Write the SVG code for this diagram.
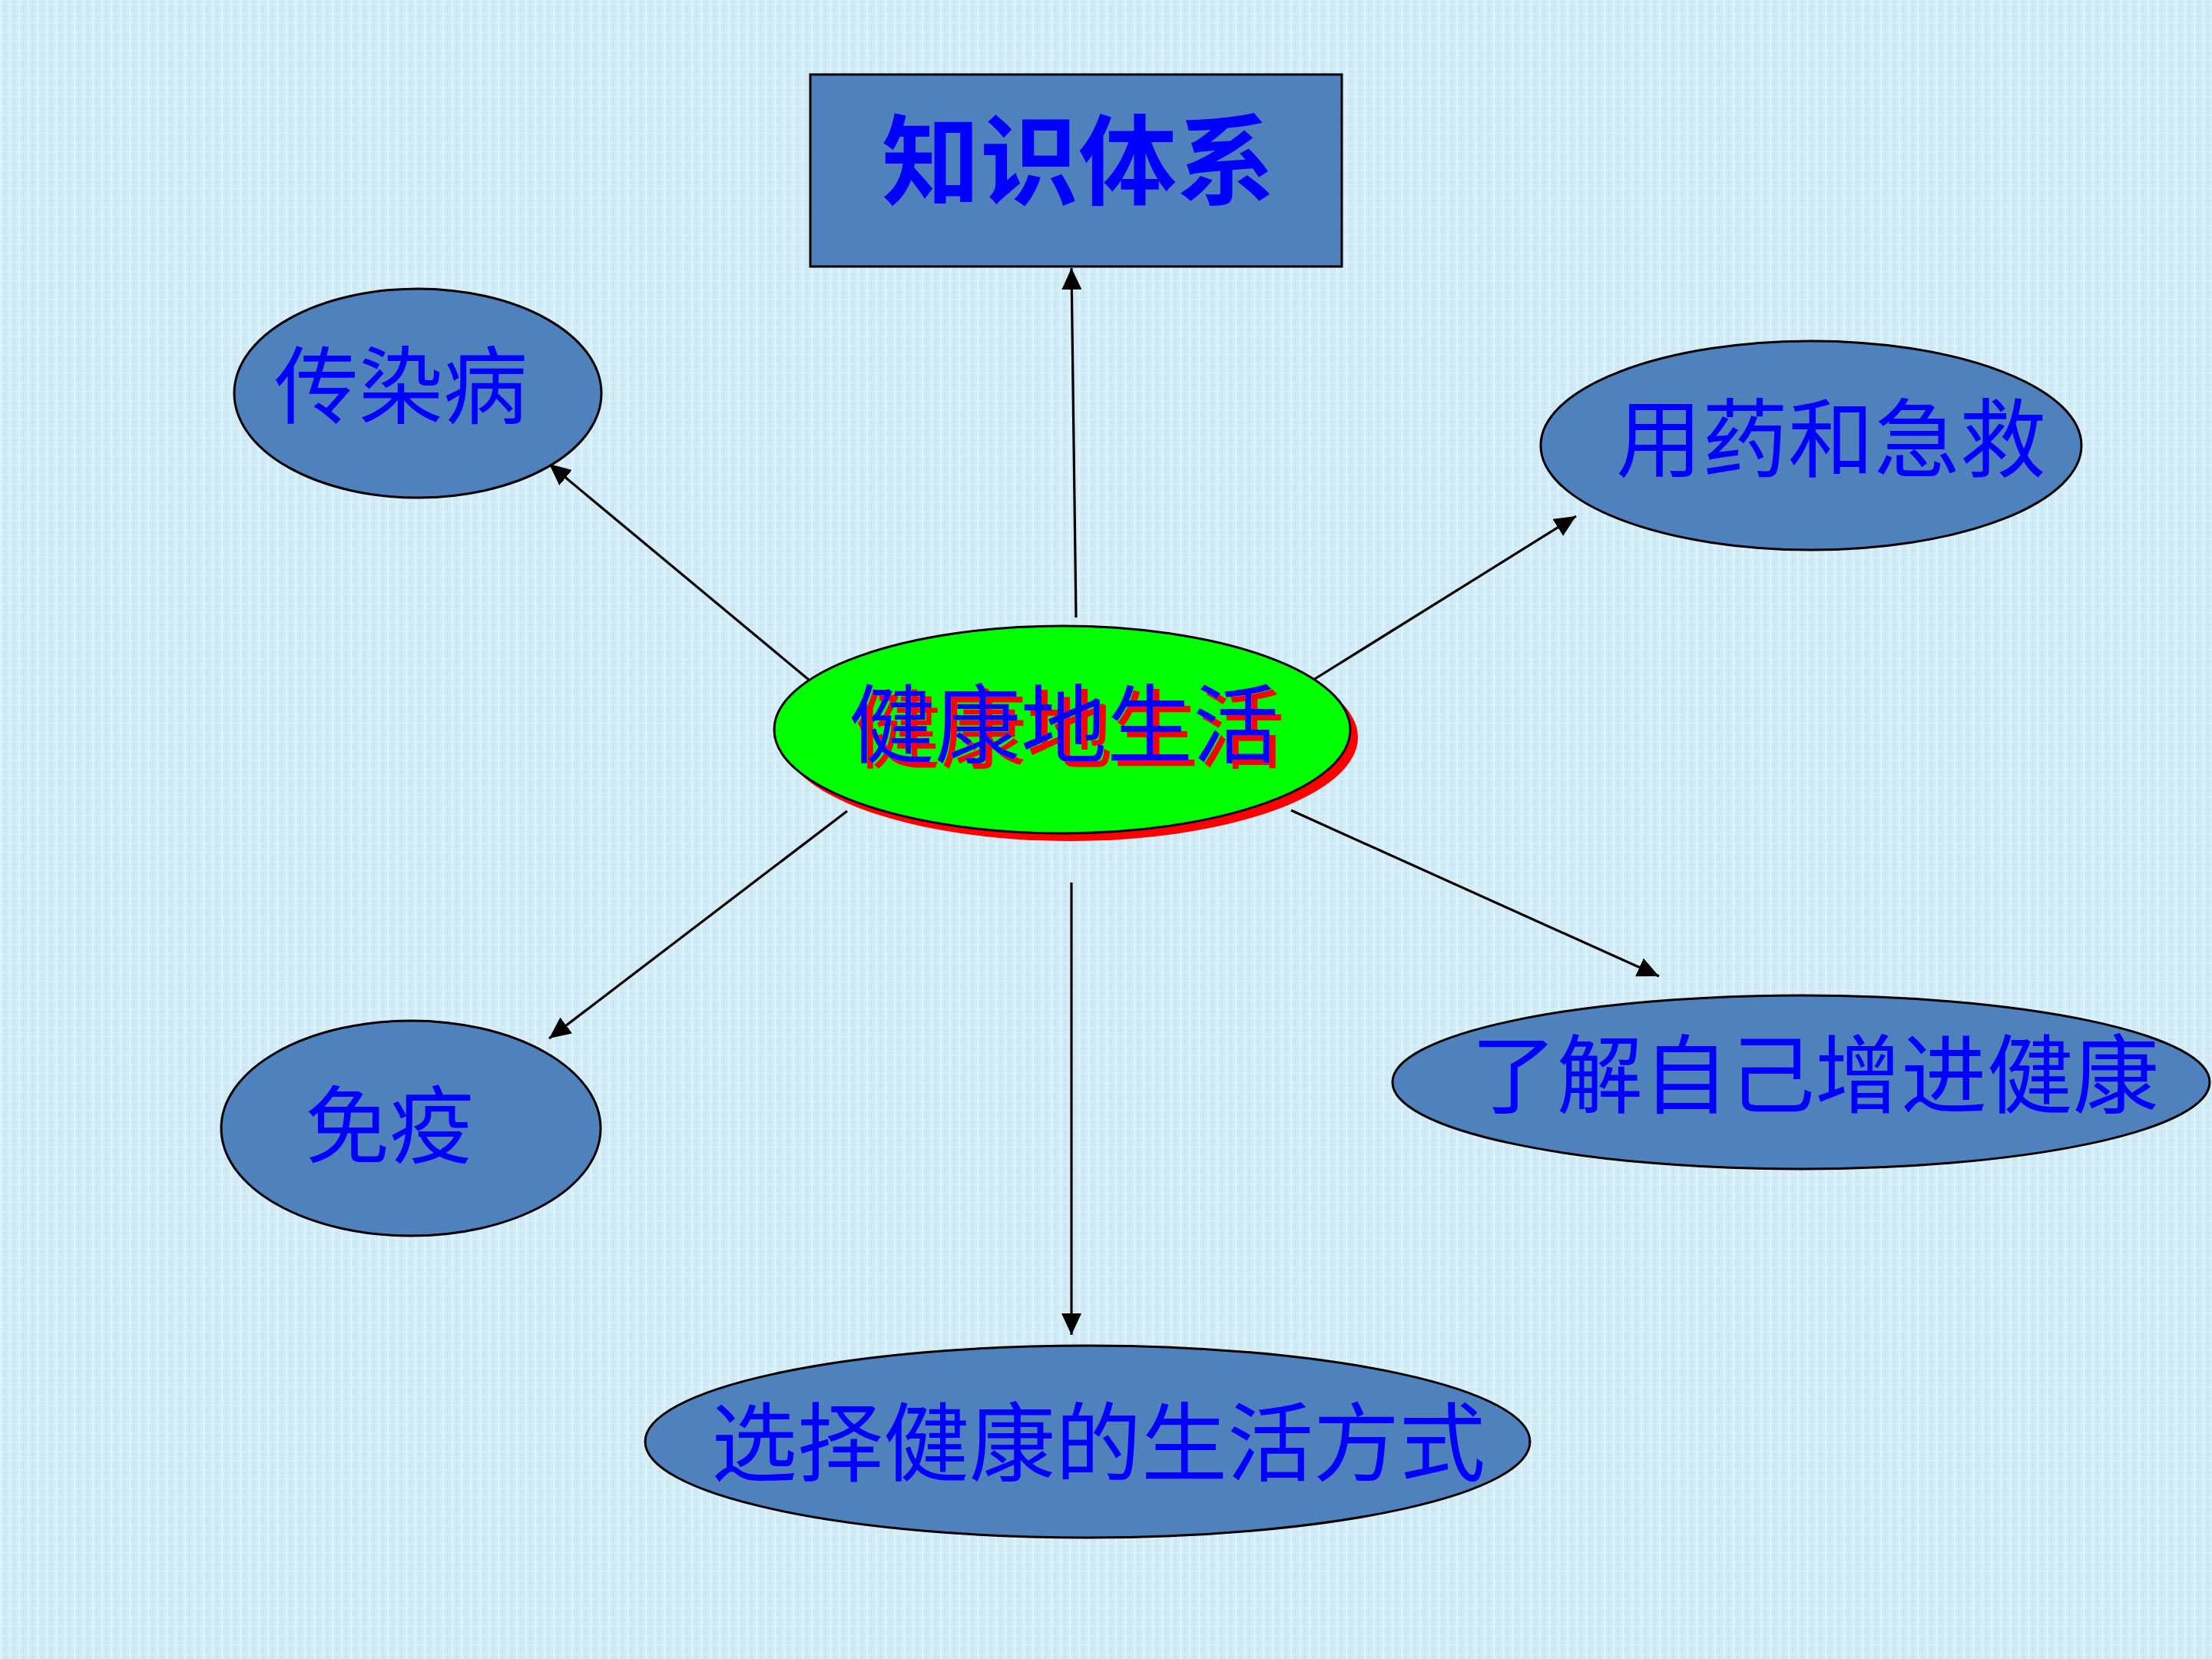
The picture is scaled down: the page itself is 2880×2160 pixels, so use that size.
<svg xmlns="http://www.w3.org/2000/svg" width="2880" height="2160" viewBox="0 0 2880 2160">
<defs>
<pattern id="tex" width="12" height="12" patternUnits="userSpaceOnUse">
<rect width="12" height="12" fill="#d2ecf7"/>
<rect x="0" y="0" width="2" height="12" fill="#dff4fc"/>
<rect x="6" y="0" width="1" height="12" fill="#c6e2ef"/>
<rect x="0" y="5" width="12" height="1" fill="#dcf2fb"/>
<rect x="3" y="9" width="6" height="1" fill="#c8e4f0"/>
</pattern>
<marker id="arr" markerUnits="userSpaceOnUse" markerWidth="30" markerHeight="26" refX="28" refY="13" orient="auto">
<path d="M0,0 L28,13 L0,26 Z" fill="#000"/>
</marker>
<filter id="redshadow" x="-10%" y="-20%" width="120%" height="140%">
<feFlood flood-color="#ff0000" result="red"/>
<feComposite in="red" in2="SourceAlpha" operator="in" result="redShape"/>
<feOffset in="redShape" dx="8" dy="7" result="off"/>
<feMerge>
<feMergeNode in="off"/>
<feMergeNode in="SourceGraphic"/>
</feMerge>
</filter>
</defs>
<style>
.node{fill:#4f81bd;stroke:#000;stroke-width:3}
.lbl{font-family:"Noto Sans CJK SC","Noto Sans CJK JP",sans-serif;fill:#0000ff;text-anchor:middle;font-size:112px}
.conn{stroke:#000;stroke-width:3.2;fill:none;marker-end:url(#arr)}
</style>
<rect width="2880" height="2160" fill="url(#tex)"/>
<g id="connectors">
<path class="conn" d="M1401,804 L1395,349"/>
<path class="conn" d="M1053,885 L715,604"/>
<path class="conn" d="M1707,887 L2052,672"/>
<path class="conn" d="M1103,1056 L715,1352"/>
<path class="conn" d="M1681,1055 L2160,1271"/>
<path class="conn" d="M1395,1149 L1395,1738"/>
</g>
<g id="node-zhishitixi">
<rect x="1055" y="97" width="692" height="250" class="node"/>
<text x="1404" y="257" class="lbl" style="font-size:128px;font-weight:bold">知识体系</text>
</g>
<g id="node-center">
<ellipse cx="1393" cy="960" rx="375" ry="135" fill="#ff0000"/>
<ellipse cx="1383" cy="950" rx="375" ry="135" fill="#00ff00" stroke="#000" stroke-width="3"/>
<text x="1385" y="985" class="lbl" filter="url(#redshadow)">健康地生活</text>
</g>
<g id="node-chuanranbing">
<ellipse cx="544" cy="512" rx="239" ry="136" class="node"/>
<text x="522" y="543" class="lbl" style="font-size:110px">传染病</text>
</g>
<g id="node-yongyao">
<ellipse cx="2358" cy="580" rx="352" ry="136" class="node"/>
<text x="2384" y="613" class="lbl">用药和急救</text>
</g>
<g id="node-mianyi">
<ellipse cx="535" cy="1469" rx="247" ry="140" class="node"/>
<text x="507" y="1506" class="lbl" style="font-size:110px">免疫</text>
</g>
<g id="node-liaojie">
<ellipse cx="2345" cy="1409" rx="532" ry="113" class="node"/>
<text x="2363" y="1441" class="lbl">了解自己增进健康</text>
</g>
<g id="node-xuanze">
<ellipse cx="1416" cy="1877" rx="576" ry="125" class="node"/>
<text x="1430" y="1920" class="lbl">选择健康的生活方式</text>
</g>
</svg>
